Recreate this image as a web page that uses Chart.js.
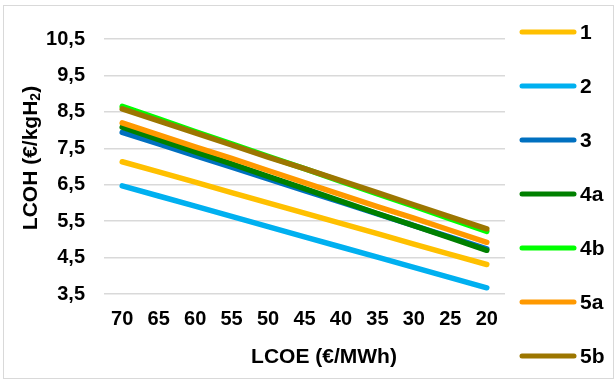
<!DOCTYPE html>
<html>
<head>
<meta charset="utf-8">
<script src="https://cdn.jsdelivr.net/npm/chart.js@4/dist/chart.umd.min.js"></script>
<style>
  html, body { margin: 0; padding: 0; background: #fff; }
  #wrap { position: relative; width: 616px; height: 381px; }
  #frame { position: absolute; left: 3px; top: 5px; width: 609px; height: 372px; border: 1px solid #d9d9d9; }
  #chart { position: absolute; left: 0; top: 0; }
</style>
</head>
<body>
<div id="wrap">
  <div id="frame"></div>
  <canvas id="chart" width="616" height="381"></canvas>
</div>
<script>
// LCOE values on the x axis (€/MWh)
const lcoe = ["70", "65", "60", "55", "50", "45", "40", "35", "30", "25", "20"];

// LCOH per scenario (€/kgH2)
const s1  = [7.13, 6.85, 6.57, 6.28, 6.00, 5.72, 5.44, 5.16, 4.87, 4.59, 4.31];
const s2  = [6.47, 6.19, 5.91, 5.63, 5.35, 5.07, 4.79, 4.51, 4.23, 3.95, 3.67];
const s3  = [7.94, 7.62, 7.30, 6.98, 6.66, 6.34, 6.02, 5.70, 5.38, 5.06, 4.74];
const s4a = [8.08, 7.74, 7.40, 7.07, 6.73, 6.39, 6.05, 5.71, 5.38, 5.04, 4.70];
const s4b = [8.65, 8.31, 7.96, 7.62, 7.28, 6.94, 6.59, 6.25, 5.91, 5.56, 5.22];
const s5a = [8.20, 7.87, 7.54, 7.22, 6.89, 6.56, 6.23, 5.90, 5.58, 5.25, 4.92];
const s5b = [8.58, 8.25, 7.92, 7.59, 7.26, 6.94, 6.61, 6.28, 5.95, 5.62, 5.29];

const names  = ["1", "2", "3", "4a", "4b", "5a", "5b"];
const series = [s1, s2, s3, s4a, s4b, s5a, s5b];
const colors = ["#FFC000", "#00B0F0", "#0070C0", "#008000", "#00FF00", "#FF9900", "#9C7600"];

const FONT = "'Liberation Sans', Arial, sans-serif";

// legend down the right side plus the two axis titles
const extras = {
  id: "extras",
  afterDraw(chart) {
    const ctx = chart.ctx;
    ctx.save();
    ctx.textBaseline = "middle";

    chart.data.datasets.forEach((ds, i) => {
      const y = 32 + i * 54;
      ctx.strokeStyle = ds.borderColor;
      ctx.lineWidth = 5;
      ctx.lineCap = "round";
      ctx.beginPath();
      ctx.moveTo(522, y);
      ctx.lineTo(574, y);
      ctx.stroke();
      ctx.fillStyle = "#000";
      ctx.font = "bold 21px " + FONT;
      ctx.textAlign = "left";
      ctx.fillText(ds.label, 580, y + 1);
    });

    // x title
    ctx.fillStyle = "#000";
    ctx.font = "bold 21px " + FONT;
    ctx.textAlign = "center";
    ctx.fillText("LCOE (€/MWh)", 324, 357);

    // y title, with H2 subscript
    const big = "bold 21px " + FONT, small = "bold 14px " + FONT;
    ctx.font = big;
    const a = "LCOH (€/kgH", c = ")";
    const wa = ctx.measureText(a).width, wc = ctx.measureText(c).width;
    ctx.font = small;
    const wb = ctx.measureText("2").width;
    const total = wa + wb + wc;
    ctx.translate(31, 158);
    ctx.rotate(-Math.PI / 2);
    ctx.textAlign = "left";
    let x = -total / 2;
    ctx.font = big;
    ctx.fillText(a, x, 0);
    x += wa;
    ctx.font = small;
    ctx.fillText("2", x, 5);
    x += wb;
    ctx.font = big;
    ctx.fillText(c, x, 0);
    ctx.restore();
  }
};

new Chart(document.getElementById("chart"), {
  type: "line",
  data: {
    labels: lcoe,
    datasets: series.map((d, i) => ({
      label: names[i],
      data: d,
      borderColor: colors[i],
      backgroundColor: colors[i],
      borderWidth: 5.5,
      borderCapStyle: "round",
      pointRadius: 0,
      pointHoverRadius: 0,
      tension: 0,
      order: series.length - i
    }))
  },
  options: {
    responsive: false,
    animation: false,
    layout: { padding: { left: 0, right: 111, top: 39, bottom: 0 } },
    plugins: {
      legend: { display: false },
      tooltip: { enabled: false }
    },
    scales: {
      x: {
        offset: true,
        afterFit: s => { s.height = 87; },
        grid: { display: false, drawTicks: false },
        border: { display: false },
        ticks: {
          color: "#000",
          padding: 13,
          maxRotation: 0,
          autoSkip: false,
          font: { family: FONT, size: 20, weight: "bold" }
        }
      },
      y: {
        min: 3.5,
        max: 10.5,
        afterFit: s => { s.width = 104; },
        grid: { color: "#d9d9d9", lineWidth: 1.5, drawTicks: false },
        border: { display: false },
        ticks: {
          stepSize: 1,
          color: "#000",
          padding: 19,
          font: { family: FONT, size: 20, weight: "bold" },
          callback: v => v.toFixed(1).replace(".", ",")
        }
      }
    }
  },
  plugins: [extras]
});
</script>
</body>
</html>
